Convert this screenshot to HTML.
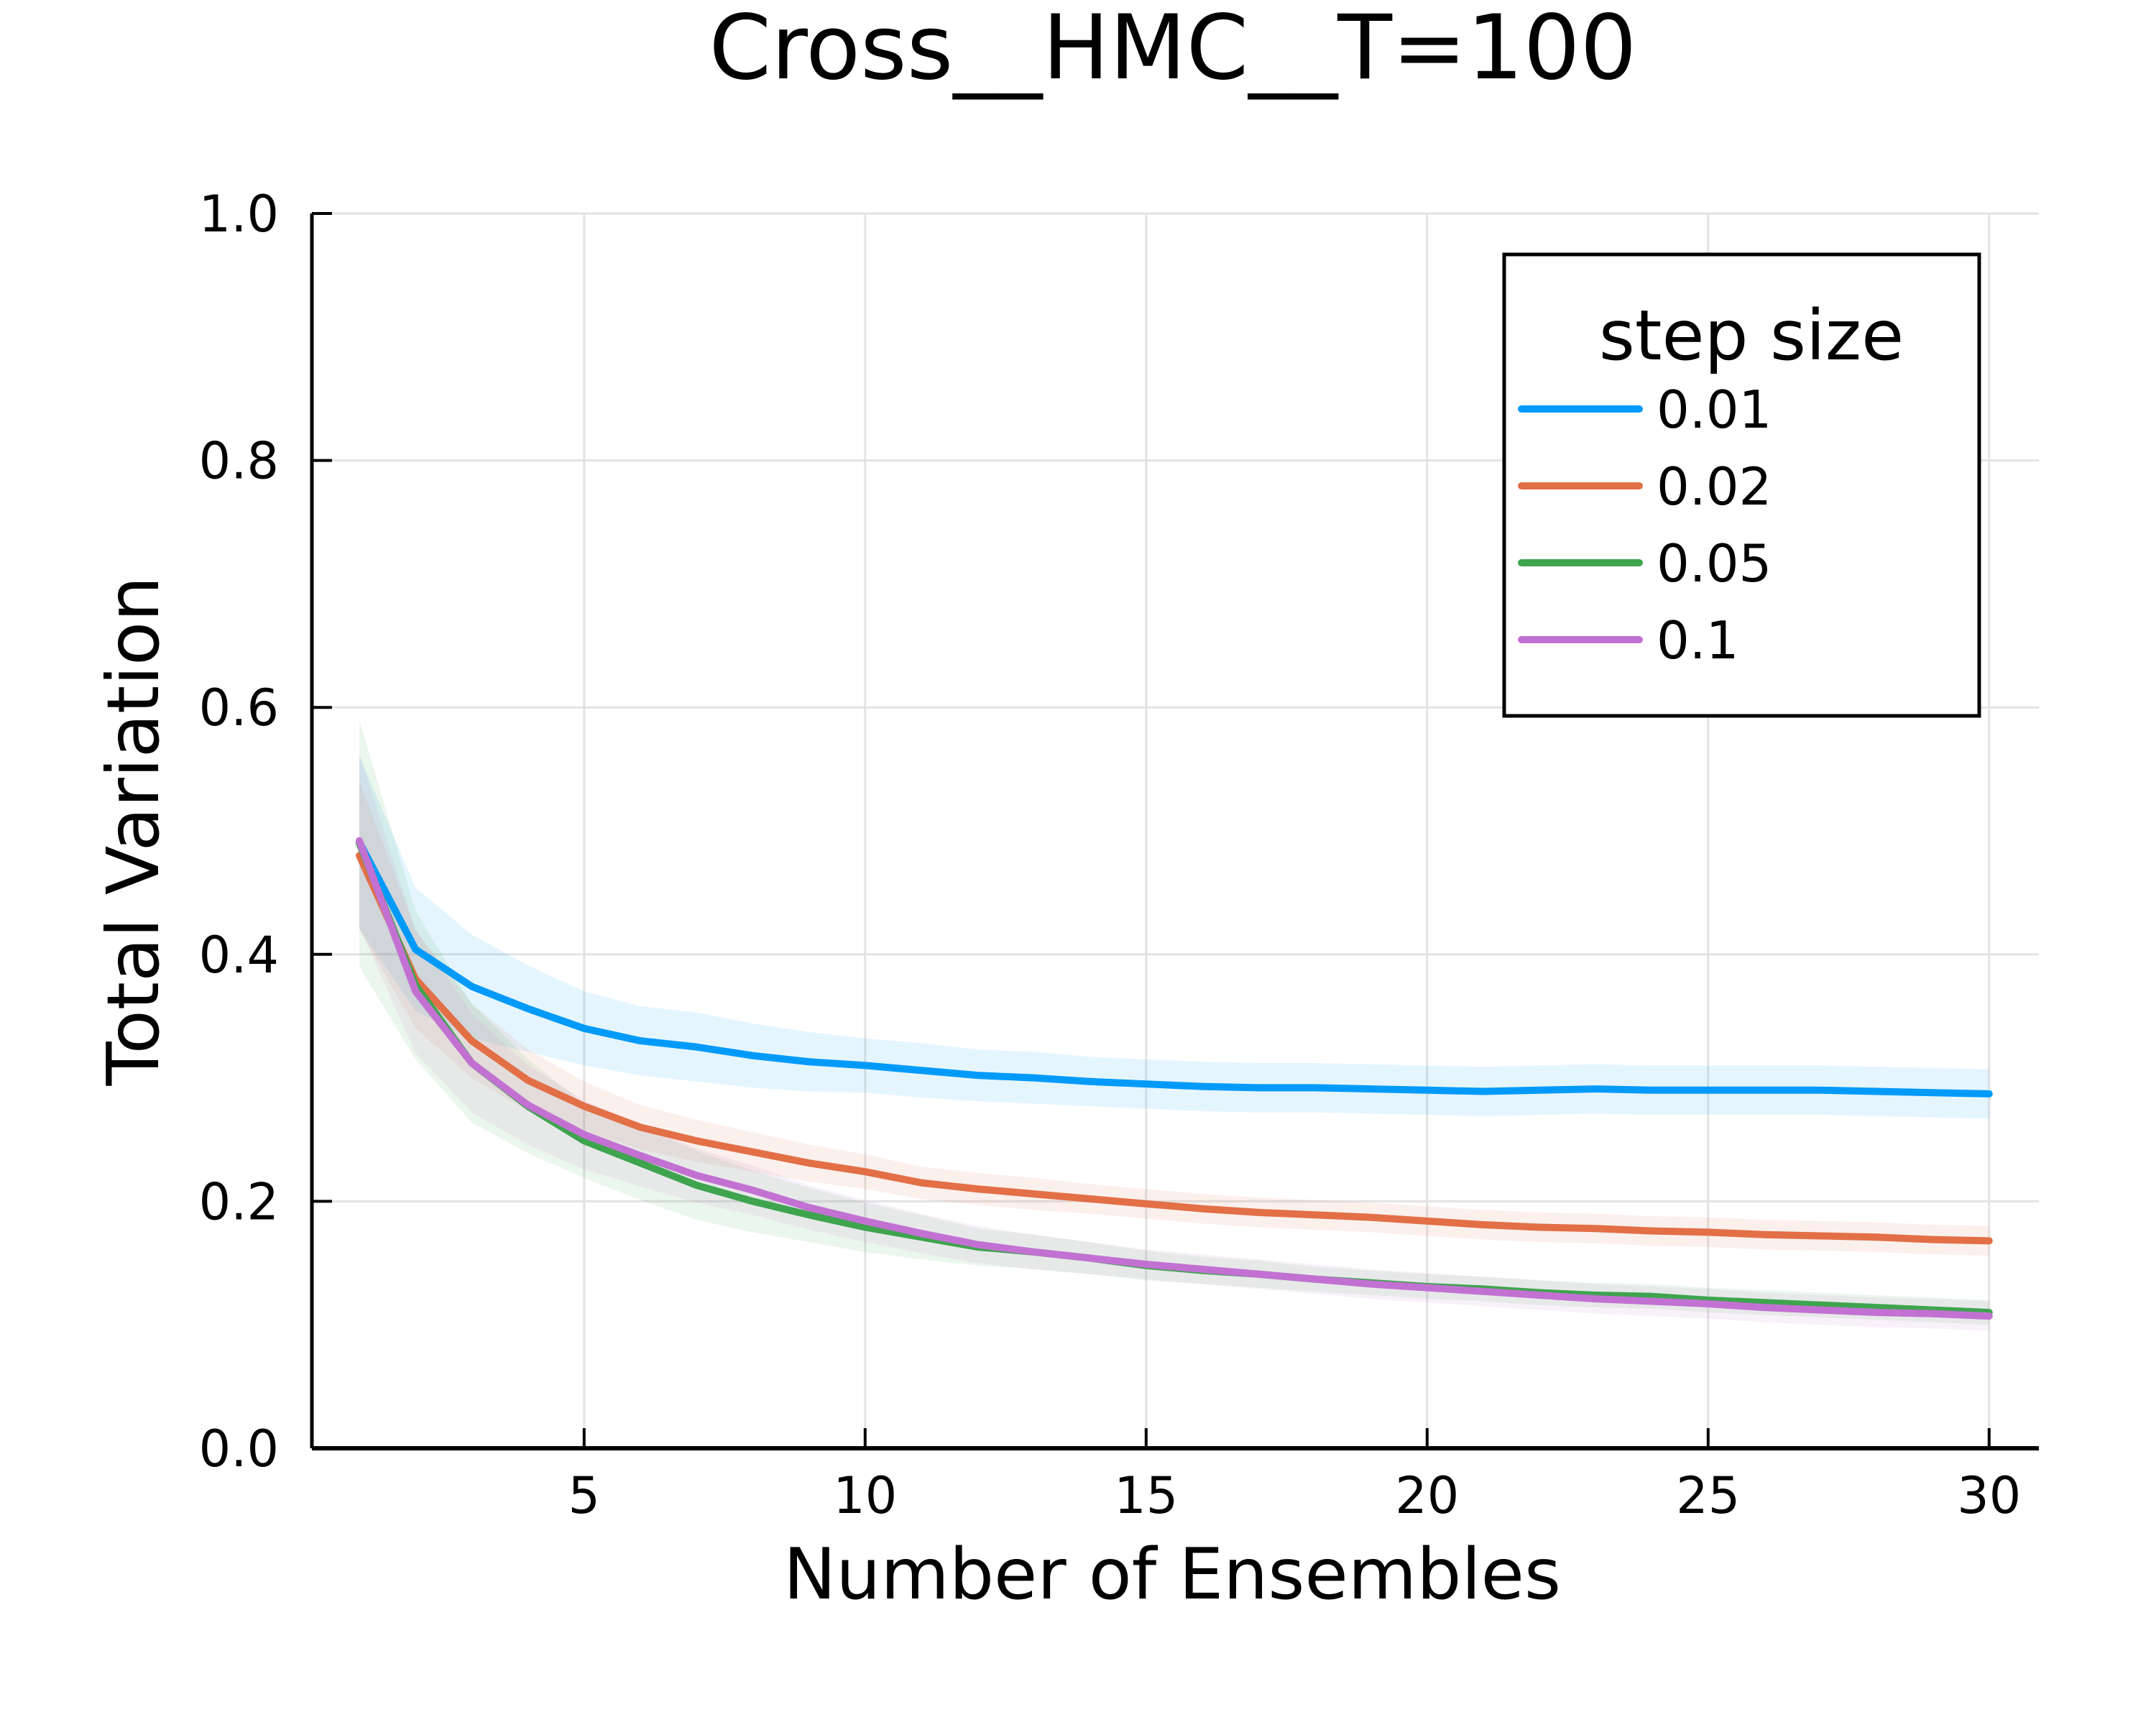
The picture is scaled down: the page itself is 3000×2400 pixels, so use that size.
<!DOCTYPE html>
<html><head><meta charset="utf-8"><style>
html,body{margin:0;padding:0;background:#fff;}
svg{display:block;font-family:"DejaVu Sans","Liberation Sans",sans-serif;}
</style></head><body>
<svg id="chart" width="3000" height="2400" viewBox="0 0 3000 2400" xmlns="http://www.w3.org/2000/svg">
<rect width="3000" height="2400" fill="#fff"/>
<text x="1632" y="109" font-size="124" text-anchor="middle">Cross__HMC__T=100</text>
<g id="grid"></g>
<g id="bands"></g>
<g id="lines"></g>
<g id="axes"></g>
<text x="1631" y="2224" font-size="98" text-anchor="middle">Number of Ensembles</text>
<text transform="translate(220,1156) rotate(-90)" font-size="100" text-anchor="middle">Total Variation</text>
<g id="legend">
<rect x="2093" y="354" width="661" height="642" fill="#fff" stroke="#000" stroke-width="5"/>
<text x="2437" y="500" font-size="96" text-anchor="middle">step size</text>
</g>
</svg>
<script>
const xs = [1,2,3,4,5,6,7,8,9,10,11,12,13,14,15,16,17,18,19,20,21,22,23,24,25,26,27,28,29,30];
const seriesNames = ["0.01","0.02","0.05","0.1"];
const blueMean = [0.491,0.404,0.374,0.356,0.340,0.330,0.325,0.318,0.313,0.310,0.306,0.302,0.300,0.297,0.295,0.293,0.292,0.292,0.291,0.290,0.289,0.290,0.291,0.290,0.290,0.290,0.290,0.289,0.288,0.287];
const blueSpread = [0.07,0.05,0.042,0.035,0.03,0.028,0.028,0.026,0.024,0.022,0.022,0.021,0.021,0.02,0.02,0.02,0.02,0.02,0.02,0.02,0.02,0.02,0.02,0.02,0.02,0.02,0.02,0.02,0.02,0.02];
const orangeMean = [0.480,0.380,0.330,0.298,0.277,0.260,0.249,0.240,0.231,0.224,0.215,0.210,0.206,0.202,0.198,0.194,0.191,0.189,0.187,0.184,0.181,0.179,0.178,0.176,0.175,0.173,0.172,0.171,0.169,0.168];
const orangeSpread = [0.06,0.04,0.03,0.025,0.02,0.018,0.017,0.016,0.015,0.014,0.013,0.013,0.013,0.012,0.012,0.012,0.012,0.012,0.012,0.012,0.012,0.012,0.012,0.012,0.012,0.012,0.012,0.012,0.012,0.012];
const greenMean = [0.490,0.375,0.312,0.277,0.249,0.231,0.213,0.200,0.189,0.179,0.171,0.163,0.159,0.154,0.148,0.144,0.141,0.137,0.134,0.131,0.129,0.126,0.124,0.123,0.120,0.118,0.116,0.114,0.112,0.110];
const greenSpread = [0.10,0.06,0.048,0.038,0.03,0.03,0.028,0.025,0.022,0.02,0.018,0.015,0.014,0.013,0.012,0.011,0.011,0.01,0.01,0.01,0.01,0.01,0.01,0.01,0.01,0.01,0.01,0.01,0.01,0.01];
const purpleMean = [0.492,0.370,0.312,0.278,0.254,0.237,0.221,0.209,0.195,0.184,0.174,0.165,0.159,0.154,0.149,0.145,0.141,0.137,0.133,0.130,0.127,0.124,0.121,0.119,0.117,0.114,0.112,0.110,0.109,0.107];
const purpleSpread = [0.07,0.05,0.04,0.032,0.028,0.025,0.022,0.02,0.018,0.017,0.016,0.015,0.014,0.013,0.012,0.012,0.012,0.012,0.012,0.012,0.012,0.012,0.012,0.012,0.012,0.012,0.012,0.012,0.012,0.012];
const xTicks = [5,10,15,20,25,30];
const yTicks = [0,0.2,0.4,0.6,0.8,1.0];
const yTickLabels = ["0.0","0.2","0.4","0.6","0.8","1.0"];

const NS = "http://www.w3.org/2000/svg";
const L = 434, R = 2837, T = 297, B = 2015;
function xScale(v){ return 500 + (v - 1) * 78.2; }
function yScale(v){ return B - v * (B - T); }
function mk(tag, attrs, parent){ const e = document.createElementNS(NS, tag); for (const k in attrs) e.setAttribute(k, attrs[k]); parent.appendChild(e); return e; }

const grid = document.getElementById('grid');
const axes = document.getElementById('axes');
xTicks.forEach(t => {
  const g = mk('line', {x1:xScale(t), x2:xScale(t), y1:T, y2:B, stroke:'#e3e3e3', 'stroke-width':3}, grid);
  
  
  const tk = mk('line', {x1:xScale(t), x2:xScale(t), y1:B, y2:B-28, stroke:'#000', 'stroke-width':4}, axes);
  
  
  const tx = mk('text', {x:xScale(t), y:2105, 'font-size':70, 'text-anchor':'middle'}, axes);
  tx.textContent = String(t);
  
  
});
yTicks.forEach((t, i) => {
  const g = mk('line', {x1:L, x2:R, y1:yScale(t), y2:yScale(t), stroke:'#e3e3e3', 'stroke-width':3}, grid);
  
  
  const tk = mk('line', {x1:L, x2:L+28, y1:yScale(t), y2:yScale(t), stroke:'#000', 'stroke-width':4}, axes);
  
  
  const tx = mk('text', {x:388, y:yScale(t)+25, 'font-size':70, 'text-anchor':'end'}, axes);
  tx.textContent = yTickLabels[i];
  
  
});
const xa = mk('line', {x1:L, x2:R, y1:B, y2:B, stroke:'#000', 'stroke-width':6}, axes);


const ya = mk('line', {x1:L, x2:L, y1:T, y2:B, stroke:'#000', 'stroke-width':5}, axes);



const series = [
  {name:'0.01', color:'#009afa', mean:blueMean, spread:blueSpread},
  {name:'0.02', color:'#e26f46', mean:orangeMean, spread:orangeSpread},
  {name:'0.05', color:'#3ea44e', mean:greenMean, spread:greenSpread},
  {name:'0.1', color:'#c271d2', mean:purpleMean, spread:purpleSpread}
];
const bands = document.getElementById('bands');
const lines = document.getElementById('lines');
const legend = document.getElementById('legend');
series.forEach((s, si) => {
  let up = xs.map((x,i) => xScale(x)+','+yScale(s.mean[i]+s.spread[i]));
  let lo = xs.map((x,i) => xScale(x)+','+yScale(s.mean[i]-s.spread[i])).reverse();
  const b = mk('polygon', {points: up.concat(lo).join(' '), fill:s.color, 'fill-opacity':0.1}, bands);
  
  
  const pts = xs.map((x,i) => xScale(x)+','+yScale(s.mean[i])).join(' ');
  const p = mk('polyline', {points: pts, fill:'none', stroke:s.color, 'stroke-width':10, 'stroke-linejoin':'round', 'stroke-linecap':'round'}, lines);
  
  
  const ly = 569 + si * 107;
  const ll = mk('line', {x1:2117, x2:2281, y1:ly, y2:ly, stroke:s.color, 'stroke-width':10, 'stroke-linecap':'round'}, legend);
  
  
  const lt = mk('text', {x:2305, y:ly+26, 'font-size':72}, legend);
  lt.textContent = seriesNames[si];
  
  
});
</script>
</body></html>
